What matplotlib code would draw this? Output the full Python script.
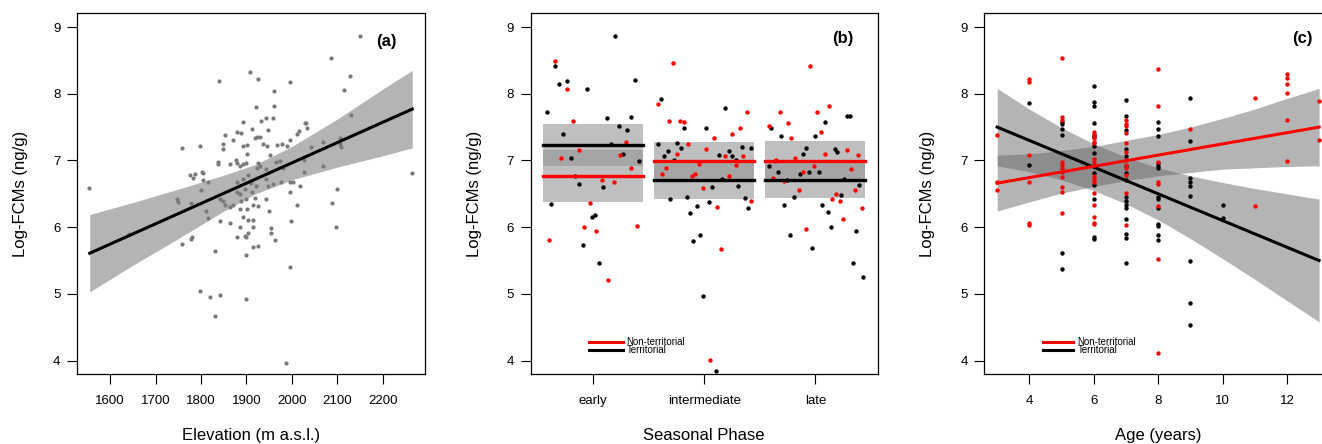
import matplotlib
matplotlib.use('Agg')
import matplotlib.pyplot as plt

plt.rcParams['font.family'] = ['Liberation Sans', 'DejaVu Sans']

# ---- panel (a): elevation ----
elev = [1554, 2151, 2086, 2129, 2115, 2131, 2264, 2106, 2106, 2108, 2099, 2097, 2089,
        2068, 2068, 2041, 2034, 2028, 2031, 2015, 2011, 2027, 2027, 2017, 2011, 1999,
        1996, 1995, 1989, 1996, 2002, 1995, 1996, 1987, 1980, 1974, 1978, 1967, 1965,
        1975, 1959, 1961, 1961, 1958, 1943, 1948, 1952, 1945, 1937, 1942, 1943, 1947,
        1943, 1950, 1954, 1954, 1963, 1926, 1908, 1920, 1931, 1912, 1923, 1929, 1918,
        1901, 1893, 1902, 1899, 1892, 1926, 1923, 1929, 1904, 1892, 1897, 1910, 1920,
        1886, 1898, 1913, 1918, 1901, 1915, 1926, 1915, 1904, 1885, 1886, 1892, 1915,
        1896, 1880, 1898, 1904, 1915, 1926, 1898, 1899, 1892, 1888, 1880, 1871, 1876,
        1880, 1886, 1864, 1880, 1880, 1888, 1864, 1864, 1871, 1852, 1848, 1848, 1838,
        1838, 1840, 1842, 1848, 1853, 1842, 1831, 1830, 1841, 1819, 1798, 1816, 1805,
        1802, 1805, 1798, 1800, 1787, 1776, 1783, 1810, 1816, 1777, 1748, 1750, 1758,
        1758, 1780, 1778, 1642]
fcm_a = [6.585, 8.865, 8.53, 8.27, 8.06, 7.68, 6.81, 7.33, 7.25, 7.2, 6.57, 6.01, 6.36,
         7.28, 6.92, 7.2, 7.48, 7.56, 7.56, 7.44, 7.39, 7.01, 6.83, 6.62, 6.34, 6.10,
         8.17, 7.31, 7.21, 6.68, 6.67, 6.53, 5.40, 3.97, 6.88, 6.99, 7.25, 7.23, 6.98,
         6.67, 6.64, 8.04, 7.81, 7.63, 7.63, 7.46, 7.08, 7.21, 7.24, 6.87, 6.72, 6.62,
         6.43, 6.24, 5.99, 5.91, 5.81, 8.22, 8.32, 7.80, 7.59, 7.47, 7.35, 7.35, 7.34,
         7.23, 7.21, 7.10, 6.96, 6.94, 6.96, 6.88, 6.91, 6.78, 6.72, 6.57, 6.66, 6.62,
         6.50, 6.42, 6.52, 6.44, 6.28, 6.34, 6.32, 6.11, 6.11, 6.28, 6.01, 6.16, 6.00,
         5.87, 5.85, 5.85, 5.91, 5.70, 5.72, 5.59, 4.93, 7.58, 7.41, 7.42, 7.31, 7.01,
         6.96, 6.91, 6.94, 6.67, 6.53, 6.39, 6.31, 6.07, 6.33, 7.38, 7.24, 7.17, 6.97,
         6.95, 8.19, 6.42, 6.40, 6.34, 6.09, 5.64, 4.67, 4.99, 4.96, 5.05, 6.67, 6.71,
         6.83, 6.81, 7.22, 6.56, 6.80, 6.78, 6.73, 6.24, 6.14, 6.37, 6.43, 6.38, 7.18,
         5.75, 5.86, 5.82, 5.90]
elev_fit = [1555, 2265]
fit_a = [5.61, 7.77]
elev_band = [1555, 1650, 1750, 1850, 1920, 2000, 2100, 2200, 2265]
band_a_hi = [6.19, 6.37, 6.57, 6.78, 6.94, 7.21, 7.62, 8.07, 8.35]
band_a_lo = [5.03, 5.43, 5.83, 6.24, 6.50, 6.71, 6.90, 7.07, 7.19]

# ---- panel (b): seasonal phase ----
phases = ['early', 'intermediate', 'late']
b_terr_x = [0.589, 0.625, 0.658, 0.694, 0.766, 0.733, 0.805, 0.838, 0.877, 0.913, 0.946,
            0.988, 1.021, 1.057, 1.093, 1.129, 1.165, 1.198, 1.237, 1.273, 1.309, 1.345,
            1.381, 1.414,
            1.610, 1.583, 1.640, 1.673, 1.694, 1.730, 1.757, 1.787, 1.814, 1.844, 1.871,
            1.901, 1.931, 1.961, 1.988, 2.015, 2.045, 2.072, 2.105, 2.132, 2.162, 2.189,
            2.222, 2.252, 2.285, 2.306, 2.336, 2.366, 2.393, 2.423,
            2.604, 2.580, 2.664, 2.691, 2.721, 2.745, 2.775, 2.805, 2.859, 2.889, 2.916,
            2.946, 2.973, 3.000, 3.030, 3.060, 3.087, 3.114, 3.144, 3.174, 3.195, 3.228,
            3.261, 3.285, 3.312, 3.339, 3.363, 3.396, 3.426]
b_terr_y = [7.73, 6.35, 8.42, 8.14, 8.19, 7.40, 7.03, 6.77, 6.65, 5.74, 8.07,
            6.16, 6.18, 5.46, 6.60, 7.64, 7.25, 8.87, 7.51, 7.09, 7.46, 7.65,
            8.21, 6.99,
            7.92, 7.25, 7.07, 7.14, 6.43, 7.01, 7.26, 7.18, 7.48, 6.46, 6.22,
            5.80, 6.32, 5.89, 4.97, 7.48, 6.38, 6.60, 3.84, 7.08, 6.72, 7.78,
            7.14, 7.07, 7.00, 6.62, 7.20, 6.44, 6.29, 7.18,
            7.49, 6.92, 6.82, 7.37, 6.33, 6.70, 5.89, 6.45, 6.79, 7.09, 7.18,
            6.83, 5.69, 7.36, 6.82, 6.34, 7.57, 6.23, 6.01, 7.17, 7.13, 6.48,
            6.72, 7.66, 7.67, 5.47, 5.94, 6.63, 5.26]
b_non_x = [0.604, 0.658, 0.763, 0.817, 0.712, 0.871, 0.922, 0.976, 1.030, 1.135, 1.081,
           1.186, 1.243, 1.294, 1.345, 1.399,
           1.586, 1.619, 1.655, 1.685, 1.718, 1.754, 1.784, 1.817, 1.853, 1.889, 1.919,
           1.952, 1.988, 2.018, 2.054, 2.087, 2.117, 2.153, 2.183, 2.219, 2.252, 2.282,
           2.318, 2.351, 2.384, 2.417,
           2.583, 2.619, 2.640, 2.649, 2.685, 2.718, 2.751, 2.784, 2.820, 2.853, 2.886,
           2.919, 2.952, 2.985, 3.018, 3.054, 3.087, 3.120, 3.153, 3.189, 3.219, 3.252,
           3.282, 3.321, 3.354, 3.384, 3.420]
b_non_y = [5.81, 8.49, 8.07, 7.59, 7.03, 7.15, 6.01, 6.37, 5.94, 5.21, 6.70,
           6.68, 7.08, 7.27, 6.89, 6.02,
           7.85, 6.79, 6.89, 7.59, 8.46, 7.10, 7.59, 7.58, 7.24, 6.76, 6.79,
           6.95, 6.58, 7.17, 4.01, 7.34, 6.31, 5.68, 7.06, 6.76, 7.39, 6.93,
           7.48, 7.06, 7.72, 6.40,
           7.51, 6.73, 6.99, 7.01, 7.72, 6.69, 7.56, 7.34, 7.03, 6.56, 6.82,
           5.98, 8.42, 6.92, 7.72, 7.42, 7.09, 7.81, 6.43, 6.50, 6.39, 6.13,
           7.15, 6.87, 6.56, 7.08, 6.29]
terr_mean = [7.23, 6.71, 6.71]
terr_lo = [6.91, 6.425, 6.435]
terr_hi = [7.55, 6.96, 6.97]
non_mean = [6.77, 6.985, 6.99]
non_lo = [6.385, 6.67, 6.68]
non_hi = [7.16, 7.28, 7.29]

# ---- panel (c): age ----
c_terr_age = [4, 4, 5, 5, 5, 5, 5, 5,
              6, 6, 6, 6, 6, 6, 6, 6, 6, 6, 6, 6, 6, 6,
              7, 7, 7, 7, 7, 7, 7, 7, 7, 7, 7, 7, 7, 7, 7, 7,
              8, 8, 8, 8, 8, 8, 8, 8, 8, 8, 8, 8, 8,
              9, 9, 9, 9, 9, 9, 9, 9, 9, 10, 10]
c_terr_y = [7.86, 6.93, 7.58, 7.55, 7.47, 7.38, 5.62, 5.37,
            8.12, 7.88, 7.81, 7.56, 7.38, 7.35, 7.21, 7.11, 6.91, 6.81, 6.63, 6.42, 5.85, 5.83,
            7.91, 7.66, 7.46, 7.17, 7.06, 6.91, 6.81, 6.71, 6.46, 6.39, 6.34, 6.29, 6.13, 5.90,
            5.84, 5.47,
            7.58, 7.47, 7.37, 6.96, 6.91, 6.88, 6.46, 6.42, 6.29, 6.05, 6.02, 5.89, 5.81,
            7.94, 7.29, 6.73, 6.68, 6.61, 6.47, 5.50, 4.86, 4.54, 6.34, 6.14]
c_non_age = [3, 3, 3, 4, 4, 4, 4, 4, 4,
             5, 5, 5, 5, 5, 5, 5, 5, 5, 5, 5,
             6, 6, 6, 6, 6, 6, 6, 6, 6, 6, 6, 6, 6, 6, 6,
             7, 7, 7, 7, 7, 7, 7, 7, 7, 7, 7, 7,
             8, 8, 8, 8, 8, 8, 8, 8,
             9, 11, 11, 12, 12, 12, 12, 12, 12, 13, 13]
c_non_y = [7.38, 6.67, 6.55, 8.22, 8.17, 7.08, 6.68, 6.07, 6.03,
           8.53, 7.65, 7.61, 6.98, 6.93, 6.88, 6.83, 6.75, 6.60, 6.52, 6.21,
           7.42, 7.38, 7.33, 7.28, 7.26, 7.02, 6.98, 6.77, 6.72, 6.67, 6.51, 6.34, 6.15, 6.07,
           6.05,
           7.60, 7.55, 7.51, 7.41, 7.26, 7.13, 7.01, 6.93, 6.88, 6.78, 6.51, 6.03,
           8.37, 7.82, 6.98, 6.67, 6.65, 6.32, 5.52, 4.11,
           7.47, 7.94, 6.32, 8.29, 8.24, 8.15, 8.01, 7.61, 6.99, 7.89, 7.31]
age_fit = [3, 13]
terr_fit = [7.5, 5.5]
non_fit = [6.66, 7.5]
age_band = [3, 4, 5, 6, 7, 8, 9, 10, 11, 12, 13]
terr_band_hi = [8.08, 7.77, 7.49, 7.25, 7.05, 6.89, 6.77, 6.67, 6.58, 6.50, 6.42]
terr_band_lo = [6.92, 6.83, 6.71, 6.55, 6.35, 6.11, 5.83, 5.53, 5.22, 4.90, 4.58]
non_band_hi = [7.08, 7.10, 7.15, 7.21, 7.30, 7.39, 7.50, 7.63, 7.77, 7.93, 8.08]
non_band_lo = [6.24, 6.38, 6.51, 6.61, 6.70, 6.77, 6.82, 6.87, 6.89, 6.91, 6.92]

RED = '#ff0000'
W, H = 1322, 444


def px_axes(fig, left, right, top=13, bottom=374):
    return fig.add_axes([left / W, 1 - bottom / H, (right - left) / W, (bottom - top) / H])


def style(ax, xlabel):
    ax.set_ylim(3.8, 9.21)
    ax.set_yticks([4, 5, 6, 7, 8, 9])
    ax.tick_params(direction='out', length=7, width=0.8, labelsize=9.5, pad=5)
    ax.tick_params(axis='x', pad=8)
    for s in ax.spines.values():
        s.set_linewidth(0.9)
    ax.set_ylabel('Log-FCMs (ng/g)', fontsize=12, labelpad=18)
    ax.set_xlabel(xlabel, fontsize=12, labelpad=15)


def legend(ax, x0, x1, xt):
    for y, col, lab in [(342, RED, 'Non-territorial'), (349.5, 'black', 'Territorial')]:
        yf = 1 - y / H
        ax.figure.add_artist(plt.Line2D([x0 / W, x1 / W], [yf, yf], color=col, lw=2.2,
                                        transform=ax.figure.transFigure))
        ax.figure.text(xt / W, yf, lab, fontsize=7, va='center', ha='left')


fig = plt.figure(figsize=(W / 100, H / 100), dpi=100)

# (a)
ax = px_axes(fig, 77, 425)
ax.fill_between(elev_band, band_a_lo, band_a_hi, color='#b4b4b4', lw=0)
ax.scatter(elev, fcm_a, s=9, color='#7a7a7a', linewidths=0, zorder=3)
ax.plot(elev_fit, fit_a, color='black', lw=2.2, zorder=4)
ax.set_xlim(1527, 2293)
ax.set_xticks(range(1600, 2201, 100))
style(ax, 'Elevation (m a.s.l.)')
ax.text(0.89, 0.92, '(a)', transform=ax.transAxes, fontsize=12, fontweight='bold',
        ha='center', va='center')

# (b)
ax = px_axes(fig, 530.7, 877.7)
for i in range(3):
    xs = [i + 0.55, i + 1.45]
    ax.fill_between(xs, terr_lo[i], terr_hi[i], color='#959595', alpha=0.6, lw=0)
    ax.fill_between(xs, non_lo[i], non_hi[i], color='#959595', alpha=0.6, lw=0)
ax.scatter(b_terr_x, b_terr_y, s=10, color='black', linewidths=0, zorder=3)
ax.scatter(b_non_x, b_non_y, s=10, color=RED, linewidths=0, zorder=3)
for i in range(3):
    xs = [i + 0.55, i + 1.45]
    ax.plot(xs, [terr_mean[i]] * 2, color='black', lw=2.4, zorder=4)
    ax.plot(xs, [non_mean[i]] * 2, color=RED, lw=2.4, zorder=4)
ax.set_xlim(0.44, 3.56)
ax.set_xticks([1, 2, 3])
ax.set_xticklabels(phases)
style(ax, 'Seasonal Phase')
ax.text(0.9, 0.928, '(b)', transform=ax.transAxes, fontsize=12, fontweight='bold',
        ha='center', va='center')
legend(ax, 589, 622.7, 626.7)

# (c)
ax = px_axes(fig, 984.3, 1332)
ax.fill_between(age_band, terr_band_lo, terr_band_hi, color='#646464', alpha=0.48, lw=0)
ax.fill_between(age_band, non_band_lo, non_band_hi, color='#646464', alpha=0.48, lw=0)
ax.scatter(c_terr_age, c_terr_y, s=10, color='black', linewidths=0, zorder=3)
ax.scatter(c_non_age, c_non_y, s=10, color=RED, linewidths=0, zorder=3)
ax.plot(age_fit, terr_fit, color='black', lw=2.2, zorder=4)
ax.plot(age_fit, non_fit, color=RED, lw=2.2, zorder=4)
ax.set_xlim(2.6, 13.4)
ax.set_xticks([4, 6, 8, 10, 12])
style(ax, 'Age (years)')
ax.text(0.916, 0.928, '(c)', transform=ax.transAxes, fontsize=12, fontweight='bold',
        ha='center', va='center')
legend(ax, 1042.7, 1073.3, 1077.7)

fig.savefig('out.png', dpi=100)
